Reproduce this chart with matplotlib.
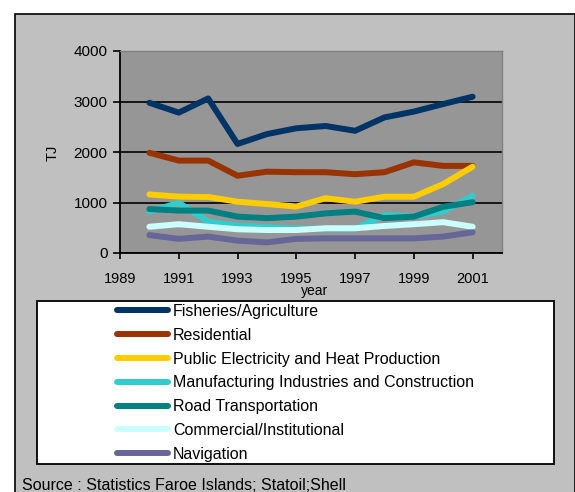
import matplotlib
matplotlib.use("Agg")
import matplotlib.pyplot as plt
from matplotlib.patches import Rectangle

plt.rcParams['font.family'] = ['Liberation Sans', 'DejaVu Sans']

years = list(range(1990, 2002))

fisheries = [2975, 2780, 3060, 2160, 2355, 2470, 2515, 2420, 2685, 2800, 2950, 3095]
residential = [1985, 1830, 1830, 1530, 1610, 1600, 1600, 1560, 1600, 1795, 1725, 1725]
public_elec = [1160, 1115, 1110, 1015, 970, 920, 1085, 1015, 1115, 1115, 1365, 1710]
manufacturing = [820, 995, 620, 540, 515, 485, 480, 480, 750, 720, 820, 1130]
road = [870, 840, 840, 720, 690, 720, 785, 820, 690, 720, 915, 1005]
commercial = [520, 570, 520, 470, 455, 455, 490, 490, 535, 570, 610, 520]
navigation = [355, 280, 325, 245, 210, 280, 290, 290, 290, 290, 325, 410]

series = [
    ("Fisheries/Agriculture", fisheries, "#003366"),
    ("Residential", residential, "#993300"),
    ("Public Electricity and Heat Production", public_elec, "#FFCC00"),
    ("Manufacturing Industries and Construction", manufacturing, "#33CCCC"),
    ("Road Transportation", road, "#008080"),
    ("Commercial/Institutional", commercial, "#CCFFFF"),
    ("Navigation", navigation, "#666699"),
]

W, H = 575, 492


def fx(px):
    return px / W


def fy(py):
    return 1 - py / H


fig = plt.figure(figsize=(W / 100, H / 100), dpi=100, facecolor="white")

# outer gray chart area
fig.patches.append(Rectangle((fx(15), fy(500)), fx(574.5) - fx(15), fy(14) - fy(500),
                             transform=fig.transFigure, facecolor="#C0C0C0",
                             edgecolor="black", linewidth=1.2, zorder=-2))
# legend box
fig.patches.append(Rectangle((fx(37), fy(464)), fx(554) - fx(37), fy(301) - fy(464),
                             transform=fig.transFigure, facecolor="white",
                             edgecolor="black", linewidth=1.3, zorder=-1))

ax = fig.add_axes([fx(120), fy(253), fx(502) - fx(120), fy(51) - fy(253)])
ax.set_facecolor("#969696")

for name, vals, col in series:
    ax.plot(years, vals, color=col, linewidth=4.3, label=name,
            solid_capstyle="round", solid_joinstyle="round", zorder=3)

ax.set_xlim(1989, 2002)
ax.set_ylim(0, 4000)
ax.set_xticks(range(1989, 2002, 2))
ax.set_yticks(range(0, 4001, 1000))
ax.yaxis.grid(True, color="black", linewidth=1.2, zorder=1)
ax.set_axisbelow(True)

for s in ["top", "right"]:
    ax.spines[s].set_color("#808080")
    ax.spines[s].set_linewidth(1)
for s in ["left", "bottom"]:
    ax.spines[s].set_color("black")
    ax.spines[s].set_linewidth(1.3)

ax.tick_params(axis="y", direction="out", length=5, width=1.2, pad=4, labelsize=11)
ax.tick_params(axis="x", direction="out", length=4, width=1.2, pad=10, labelsize=10.5)

fig.text(fx(53), fy(153), "TJ", rotation=90, ha="center", va="center", fontsize=10.5)
fig.text(fx(315), fy(291.5), "year", ha="center", va="center", fontsize=10)

leg = ax.legend(loc="upper left", bbox_to_anchor=(fx(117), fy(304)),
                bbox_transform=fig.transFigure, frameon=False, fontsize=11.5,
                handlelength=3.2, handletextpad=0.3, labelspacing=0.55,
                borderpad=0, borderaxespad=0)

fig.text(fx(22), fy(485.5), "Source : Statistics Faroe Islands; Statoil;Shell",
         ha="left", va="center", fontsize=11.5)

fig.savefig("out.png", dpi=100, facecolor="white")
